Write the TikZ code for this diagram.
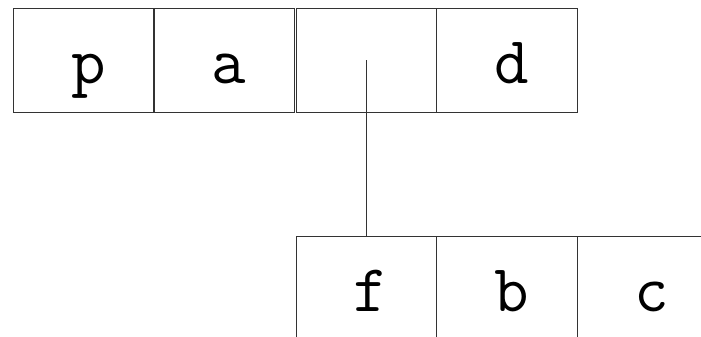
\documentclass[tikz,border=0pt]{standalone}
\usepackage{fontspec}
\begin{document}
\begin{tikzpicture}[x=1pt,y=1pt,
  cell/.style={draw=black!80,line width=0.9pt,rectangle,inner sep=0pt,
    minimum width=140.5pt,minimum height=104.7pt},
  letter/.style={anchor=base,inner sep=0pt,font=\ttfamily\fontsize{67}{67}\selectfont},
  link/.style={draw=black!80,line width=0.9pt}]
\useasboundingbox (0,0) rectangle (701,337);
% top row, left group
\node[cell] (cp) at (84,276.65) {};
\node[cell] (ca) at (224.15,276.65) {};
% top row, right group
\node[cell] (cx) at (366.35,276.65) {};
\node[cell] (cd) at (507,276.65) {};
% bottom row
\node[cell] (cf) at (366.35,47.95) {};
\node[cell] (cb) at (506.85,47.95) {};
\node[cell] (cc) at (647.35,47.95) {};
% letters
\node[letter] (tp) at ([xshift=4.5pt,yshift=-23.15pt]cp.center) {p};
\node[letter] (ta) at ([xshift=4.5pt,yshift=-23.15pt]ca.center) {a};
\node[letter] (td) at ([xshift=4.5pt,yshift=-23.15pt]cd.center) {d};
\node[letter] (tf) at ([xshift=4.5pt,yshift=-22.25pt]cf.center) {f};
\node[letter] (tb) at ([xshift=4.5pt,yshift=-22.25pt]cb.center) {b};
\node[letter] (tc) at ([xshift=4.5pt,yshift=-22.25pt]cc.center) {c};
% connector
\draw[link] (cx.center) -- (cf.north);
\end{tikzpicture}
\end{document}
